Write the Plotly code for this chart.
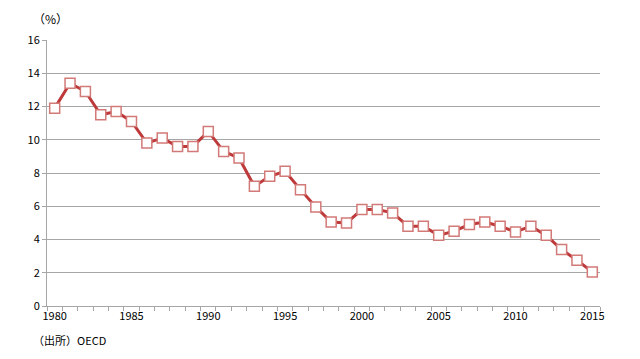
import plotly.graph_objects as go

years = list(range(1980, 2016))
rates = [11.9, 13.4, 12.9, 11.5, 11.7, 11.1, 9.8, 10.1, 9.6, 9.6,
         10.5, 9.3, 8.9, 7.2, 7.8, 8.1, 7.0, 5.95, 5.05, 5.0,
         5.8, 5.8, 5.6, 4.8, 4.8, 4.25, 4.5, 4.9, 5.05, 4.8,
         4.45, 4.8, 4.25, 3.4, 2.75, 2.05]
xtick_vals = [1980, 1985, 1990, 1995, 2000, 2005, 2010, 2015]
ytick_vals = [0, 2, 4, 6, 8, 10, 12, 14, 16]

font_main = "Noto Sans CJK JP, Noto Sans, sans-serif"

fig = go.Figure()
fig.add_trace(go.Scatter(
    x=years, y=rates, mode="lines+markers",
    line=dict(color="#BE3A3A", width=3),
    marker=dict(symbol="square", size=10, color="white",
                line=dict(color="#D27A78", width=1.5)),
    hoverinfo="x+y", showlegend=False,
))

# page body has an 8px default margin; compensate so the plot lands where the reference has it
fig.update_layout(
    width=624, height=343,
    margin=dict(l=39, r=32, t=32, b=45, autoexpand=False),
    paper_bgcolor="white", plot_bgcolor="white",
    font=dict(family=font_main, size=11, color="black"),
    xaxis=dict(
        range=[1979.5, 2015.5], tickvals=xtick_vals,
        ticktext=[str(v) for v in xtick_vals],
        ticks="", showgrid=False, zeroline=False,
        showline=True, linecolor="#A6A6A6", linewidth=1,
        tickfont=dict(size=11),
        minor=dict(tick0=1979.5, dtick=1, ticks="outside", ticklen=4,
                   tickcolor="#A6A6A6", showgrid=False),
    ),
    yaxis=dict(
        range=[0, 16], tickvals=ytick_vals,
        ticks="outside", ticklen=4, tickcolor="#A6A6A6",
        showgrid=True, gridcolor="#A6A6A6", gridwidth=1,
        zeroline=False, showline=True, linecolor="#A6A6A6", linewidth=1,
        tickfont=dict(size=11),
    ),
)

fig.add_annotation(text="（%）", xref="paper", yref="paper", x=0, y=1.0,
                   xshift=-16, yshift=22, xanchor="left", yanchor="middle",
                   showarrow=False, font=dict(size=12))
fig.add_annotation(text="（出所）OECD", xref="paper", yref="paper", x=0, y=0,
                   xshift=-16, yshift=-44, xanchor="left", yanchor="bottom",
                   showarrow=False, font=dict(size=11))

fig.write_html("out.html")
